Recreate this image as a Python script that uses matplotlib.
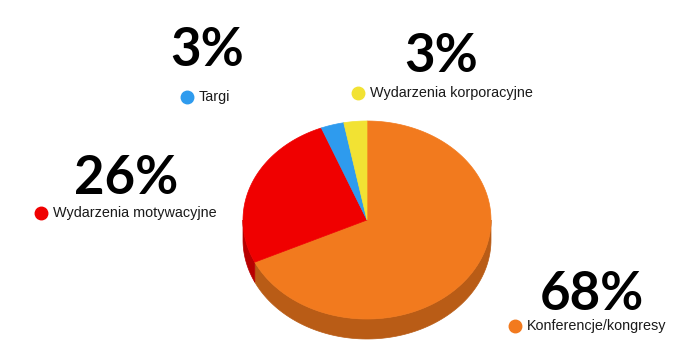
import matplotlib.pyplot as plt
import numpy as np
from matplotlib.patches import Polygon

labels = ["Konferencje/kongresy", "Wydarzenia motywacyjne", "Targi", "Wydarzenia korporacyjne"]
values = [68, 26, 3, 3]
top_colors = ["#F27A1E", "#F00000", "#2E9BEE", "#F2E233"]
side_colors = ["#B95C16", "#B80000", "#1F6FAA", "#B0A020"]
# where the big number / legend goes for each slice (pixel coords)
pct_pos = [(592, 294), (126, 179), (207, 50), (441, 56)]
dot_pos = [(515, 326), (41, 213), (187, 97), (358, 93)]

cx, cy = 367, 220
rx, ry = 124, 99
depth = 20

fig = plt.figure(figsize=(6.84, 3.55), dpi=100)
ax = fig.add_axes([0, 0, 1, 1])
ax.set_xlim(0, 684)
ax.set_ylim(355, 0)
ax.axis("off")

def pt(a, dy=0):
    # a = angle clockwise from 12 o'clock, degrees
    r = np.radians(a)
    return cx + rx * np.sin(r), cy - ry * np.cos(r) + dy

fracs = np.array(values) / sum(values) * 360
starts = np.concatenate([[0], np.cumsum(fracs)[:-1]])

# sides (front half only: 90..270 deg)
for s, f, c in zip(starts, fracs, side_colors):
    a0, a1 = max(s, 90), min(s + f, 270)
    if a1 <= a0:
        continue
    angs = np.linspace(a0, a1, 100)
    top = [pt(a) for a in angs]
    bot = [pt(a, depth) for a in angs[::-1]]
    ax.add_patch(Polygon(top + bot, closed=True, facecolor=c, edgecolor=c, lw=0.5))

# tops
for s, f, c in zip(starts, fracs, top_colors):
    angs = np.linspace(s, s + f, 200)
    poly = [(cx, cy)] + [pt(a) for a in angs]
    ax.add_patch(Polygon(poly, closed=True, facecolor=c, edgecolor=c, lw=0.5))

for lab, v, c, (px, py), (dx, dy) in zip(labels, values, top_colors, pct_pos, dot_pos):
    ax.text(px, py, f"{v}%", fontsize=38, fontweight="bold", family="Lato",
            ha="center", va="center", color="#000000")
    ax.plot(dx, dy, "o", ms=9, color=c)
    ax.text(dx + 12, dy, lab, fontsize=10.4, family="Liberation Sans",
            ha="left", va="center", color="#1a1a1a")

fig.savefig("out.png", dpi=100)
